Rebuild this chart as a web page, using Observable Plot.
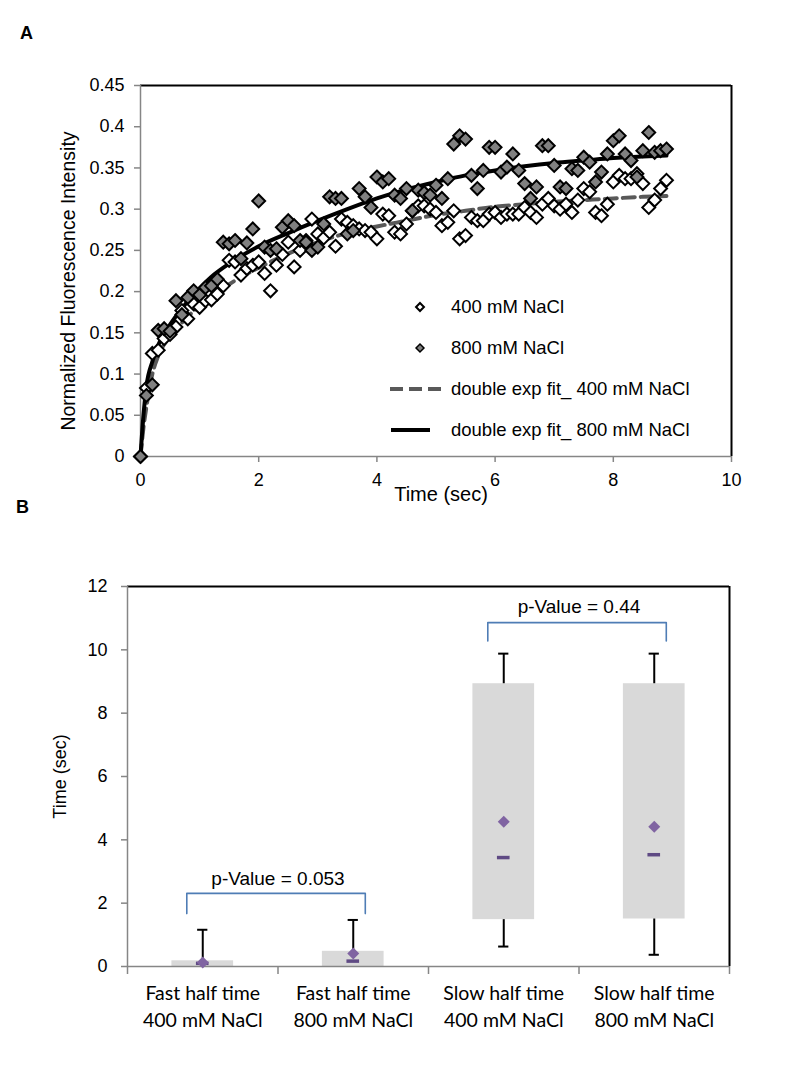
<!DOCTYPE html>
<html><head><meta charset="utf-8">
<script src="https://cdn.jsdelivr.net/npm/d3@7"></script>
<script src="https://cdn.jsdelivr.net/npm/@observablehq/plot@0.6"></script>
<style>
body{margin:0;background:#fff}
#wrap{position:relative;width:786px;height:1070px;background:#fff;font-family:"Liberation Sans",Arial,sans-serif;overflow:hidden}
.panel{position:absolute;left:0;z-index:1}
.tag{position:absolute;font-weight:bold;font-size:18px;line-height:18px;z-index:5}
</style></head><body><div id="wrap">
<div class="tag" style="left:20px;top:24px">A</div>
<div class="tag" style="left:16px;top:498px">B</div>
</div>
<script>
// ---------- Panel A data ----------
const timeA = [0,0.1,0.2,0.3,0.4,0.5,0.6,0.7,0.8,0.9,1.0,1.1,1.2,1.3,1.4,1.5,1.6,1.7,1.8,1.9,
  2.0,2.1,2.2,2.3,2.4,2.5,2.6,2.7,2.8,2.9,3.0,3.1,3.2,3.3,3.4,3.5,3.6,3.7,3.8,3.9,
  4.0,4.1,4.2,4.3,4.4,4.5,4.6,4.7,4.8,4.9,5.0,5.1,5.2,5.3,5.4,5.5,5.6,5.7,5.8,5.9,
  6.0,6.1,6.2,6.3,6.4,6.5,6.6,6.7,6.8,6.9,7.0,7.1,7.2,7.3,7.4,7.5,7.6,7.7,7.8,7.9,
  8.0,8.1,8.2,8.3,8.4,8.5,8.6,8.7,8.8,8.9];
const value400 = [0,0.083,0.125,0.129,0.143,0.148,0.157,0.177,0.167,0.185,0.181,0.189,0.19,0.197,0.207,0.238,0.236,0.22,0.228,0.232,
  0.236,0.222,0.201,0.232,0.245,0.26,0.23,0.25,0.262,0.288,0.27,0.265,0.272,0.255,0.288,0.284,0.28,0.276,0.274,0.272,
  0.264,0.294,0.292,0.272,0.27,0.282,0.298,0.304,0.304,0.3,0.296,0.28,0.284,0.298,0.264,0.268,0.29,0.286,0.286,0.294,
  0.296,0.29,0.294,0.294,0.294,0.302,0.296,0.29,0.306,0.313,0.304,0.3,0.306,0.296,0.311,0.325,0.321,0.296,0.292,0.306,
  0.333,0.341,0.337,0.337,0.343,0.331,0.302,0.311,0.325,0.335];
const value800 = [0,0.074,0.087,0.153,0.155,0.152,0.189,0.172,0.193,0.201,0.196,0.205,0.207,0.215,0.26,0.258,0.262,0.24,0.259,0.276,
  0.31,0.254,0.25,0.252,0.278,0.286,0.28,0.262,0.26,0.25,0.254,0.282,0.315,0.313,0.313,0.27,0.274,0.325,0.315,0.302,
  0.339,0.333,0.337,0.317,0.313,0.325,0.298,0.323,0.32,0.317,0.329,0.313,0.337,0.379,0.389,0.385,0.341,0.325,0.347,0.375,
  0.375,0.345,0.351,0.367,0.347,0.331,0.313,0.327,0.377,0.377,0.353,0.327,0.325,0.349,0.347,0.363,0.357,0.333,0.345,0.367,
  0.383,0.389,0.367,0.359,0.339,0.371,0.393,0.369,0.371,0.373];
const fitTime = [0,0.05,0.1,0.2,0.3,0.5,0.75,1,1.25,1.5,2,2.5,3,3.5,4,4.5,5,5.5,6,6.5,7,7.5,8,8.5,8.9];
const fitValue400 = [0,0.035,0.06,0.1,0.122,0.146,0.166,0.183,0.197,0.209,0.229,0.246,0.26,0.271,0.279,0.286,0.293,0.298,0.303,0.306,0.309,0.311,0.313,0.315,0.316];
const fitValue800 = [0,0.05,0.085,0.115,0.135,0.16,0.184,0.204,0.221,0.234,0.255,0.271,0.286,0.3,0.313,0.324,0.333,0.341,0.347,0.352,0.356,0.359,0.362,0.364,0.365];
const xTicksA = [0,2,4,6,8,10];
const yTicksA = [0,0.05,0.1,0.15,0.2,0.25,0.3,0.35,0.4,0.45];
const legendLabels = ["400 mM NaCl","800 mM NaCl","double exp fit_ 400 mM NaCl","double exp fit_ 800 mM NaCl"];

// ---------- Panel B data ----------
const categories = ["Fast half time\n400 mM NaCl","Fast half time\n800 mM NaCl","Slow half time\n400 mM NaCl","Slow half time\n800 mM NaCl"];
const boxLow = [0,0,1.48,1.5];
const boxHigh = [0.18,0.48,8.93,8.93];
const whiskerHigh = [1.16,1.47,9.88,9.88];
const whiskerLow = [null,null,0.63,0.37];
const means = [0.13,0.41,4.57,4.41];
const medians = [0.1,0.17,3.44,3.53];
const categoryEdges = [-0.5,0.5,1.5,2.5,3.5];
const yTicksB = [0,2,4,6,8,10,12];
const bracketFrom = [0,2];
const bracketTo = [1,3];
const bracketTop = [2.31,10.86];
const bracketLeg = [1.67,10.28];
const bracketTextY = [2.78,11.35];
const bracketLabels = ["p-Value = 0.053","p-Value = 0.44"];

// ---------- build tables ----------
const pts400 = timeA.map((t,i)=>({t, v:value400[i]}));
const pts800 = timeA.map((t,i)=>({t, v:value800[i]}));
const fit400 = fitTime.map((t,i)=>({t, v:fitValue400[i]}));
const fit800 = fitTime.map((t,i)=>({t, v:fitValue800[i]}));
const stats = categories.map((label,i)=>({i,label,lo:boxLow[i],hi:boxHigh[i],wHi:whiskerHigh[i],wLo:whiskerLow[i],mean:means[i],median:medians[i]}));
const BOX_HALF = 0.205, CAP_HALF = 0.034, MED_HALF = 0.042, BR_L = 0.106, BR_R = 0.08;
const bracketPts = bracketFrom.flatMap((f,k)=>[
  {id:k,x:f-BR_L,y:bracketLeg[k]},{id:k,x:f-BR_L,y:bracketTop[k]},
  {id:k,x:bracketTo[k]+BR_R,y:bracketTop[k]},{id:k,x:bracketTo[k]+BR_R,y:bracketLeg[k]}]);
const bracketText = bracketLabels.map((label,k)=>({label,x:(bracketFrom[k]+bracketTo[k])/2,y:bracketTextY[k]}));

const FONT = '"Liberation Sans", Arial, sans-serif';
const GREY = "#868686";

const chartA = Plot.plot({
  width:786, height:510, marginLeft:140, marginRight:55, marginTop:85, marginBottom:54,
  style:{fontFamily:FONT, fontSize:"18px", color:"black", background:"white", overflow:"visible"},
  x:{domain:[0,10]}, y:{domain:[0,0.45]},
  marks:[
    Plot.ruleY([0.45],{stroke:"black",strokeWidth:2}),
    Plot.ruleX([10],{stroke:"black",strokeWidth:2}),
    Plot.ruleX([0],{stroke:GREY,strokeWidth:1.5}),
    Plot.ruleY([0],{stroke:GREY,strokeWidth:1.5}),
    Plot.axisY({ticks:yTicksA, tickSize:6, tickPadding:10, stroke:GREY, strokeWidth:1.5, tickFormat:d=>String(d), label:null, fontSize:18}),
    Plot.axisX({ticks:xTicksA, tickSize:6, tickPadding:11, stroke:GREY, strokeWidth:1.5, tickFormat:d=>String(d), label:null, fontSize:18}),
    Plot.line(fit400,{x:"t",y:"v",stroke:"#595959",strokeWidth:4,strokeDasharray:"12,6",curve:"monotone-x"}),
    Plot.line(fit800,{x:"t",y:"v",stroke:"black",strokeWidth:4,curve:"monotone-x"}),
    Plot.dot(pts400,{x:"t",y:"v",symbol:"diamond2",r:5.8,fill:"white",stroke:"black",strokeWidth:2}),
    Plot.dot(pts800,{x:"t",y:"v",symbol:"diamond2",r:5.8,fill:"#808080",stroke:"black",strokeWidth:2}),
    Plot.text(["Time (sec)"],{frameAnchor:"bottom",dy:38,dx:5,fontSize:20,lineAnchor:"middle",textAnchor:"middle"}),
    Plot.text(["Normalized Fluorescence Intensity"],{frameAnchor:"left",dx:-72,dy:10,rotate:-90,fontSize:19.5,textAnchor:"middle",lineAnchor:"middle"})
  ]
});

const chartB = Plot.plot({
  width:786, height:550, marginLeft:127, marginRight:57, marginTop:66, marginBottom:104,
  style:{fontFamily:FONT, fontSize:"18px", color:"black", background:"white", overflow:"visible"},
  x:{domain:[-0.5,3.5]}, y:{domain:[0,12]},
  marks:[
    Plot.rect(stats,{x1:d=>d.i-BOX_HALF,x2:d=>d.i+BOX_HALF,y1:"lo",y2:"hi",fill:"#d9d9d9"}),
    Plot.ruleY([12],{stroke:"black",strokeWidth:2}),
    Plot.ruleX([3.5],{stroke:"black",strokeWidth:2}),
    Plot.ruleX([-0.5],{stroke:GREY,strokeWidth:1.5}),
    Plot.ruleY([0],{stroke:GREY,strokeWidth:1.5}),
    Plot.axisY({ticks:yTicksB, tickSize:6, tickPadding:14, stroke:GREY, strokeWidth:1.5, tickFormat:d=>String(d), label:null, fontSize:18}),
    Plot.axisX({ticks:categoryEdges, tickSize:8, stroke:GREY, strokeWidth:1.5, tickFormat:()=>"", label:null}),
    Plot.ruleX(stats,{x:"i",y1:"hi",y2:"wHi",stroke:"black",strokeWidth:2}),
    Plot.ruleY(stats,{y:"wHi",x1:d=>d.i-CAP_HALF,x2:d=>d.i+CAP_HALF,stroke:"black",strokeWidth:2}),
    Plot.ruleX(stats.filter(d=>d.wLo!=null),{x:"i",y1:"lo",y2:"wLo",stroke:"black",strokeWidth:2}),
    Plot.ruleY(stats.filter(d=>d.wLo!=null),{y:"wLo",x1:d=>d.i-CAP_HALF,x2:d=>d.i+CAP_HALF,stroke:"black",strokeWidth:2}),
    Plot.ruleY(stats,{y:"median",x1:d=>d.i-MED_HALF,x2:d=>d.i+MED_HALF,stroke:"#5f4a84",strokeWidth:3.5}),
    Plot.dot(stats,{x:"i",y:"mean",symbol:"diamond2",r:5.4,fill:"#8064a2",stroke:"none"}),
    Plot.line(bracketPts,{x:"x",y:"y",z:"id",stroke:"#4f7db5",strokeWidth:1.6}),
    Plot.text(bracketText,{x:"x",y:"y",text:"label",fontSize:19}),
    Plot.text(stats,{x:"i",text:"label",frameAnchor:"bottom",dy:38.5,lineAnchor:"middle",textAnchor:"middle",lineHeight:1.385,fontFamily:"Lato",fontSize:19.5}),
    Plot.text(["Time (sec)"],{frameAnchor:"left",dx:-67,rotate:-90,fontSize:18,textAnchor:"middle",lineAnchor:"middle"})
  ]
});

const wrap = document.getElementById("wrap");
const dA = document.createElement("div"); dA.className="panel"; dA.style.top="0px"; dA.appendChild(chartA); wrap.appendChild(dA);
const dB = document.createElement("div"); dB.className="panel"; dB.style.top="520px"; dB.appendChild(chartB); wrap.appendChild(dB);

// ---------- legend overlay for panel A ----------
const leg = d3.select(wrap).append("svg").attr("width",786).attr("height",510)
  .style("position","absolute").style("left","0px").style("top","0px").style("pointer-events","none").style("z-index",3);
const rowY = [307,348,389,430];
const dia = d3.symbol(d3.symbolDiamond2).size(40)();
leg.append("path").attr("d",dia).attr("transform",`translate(420,${rowY[0]})`).attr("fill","white").attr("stroke","black").attr("stroke-width",2);
leg.append("path").attr("d",dia).attr("transform",`translate(420,${rowY[1]})`).attr("fill","#808080").attr("stroke","black").attr("stroke-width",1.5);
leg.append("line").attr("x1",390).attr("x2",445).attr("y1",rowY[2]).attr("y2",rowY[2]).attr("stroke","#595959").attr("stroke-width",4).attr("stroke-dasharray","13,6");
leg.append("line").attr("x1",391).attr("x2",430).attr("y1",rowY[3]).attr("y2",rowY[3]).attr("stroke","black").attr("stroke-width",4);
leg.selectAll("text.l").data(legendLabels).join("text").attr("class","l")
  .attr("x",451).attr("y",(d,i)=>rowY[i]).attr("dy","0.35em")
  .attr("font-family",FONT).attr("font-size",18.5).attr("fill","black").text(d=>d);
</script></body></html>
